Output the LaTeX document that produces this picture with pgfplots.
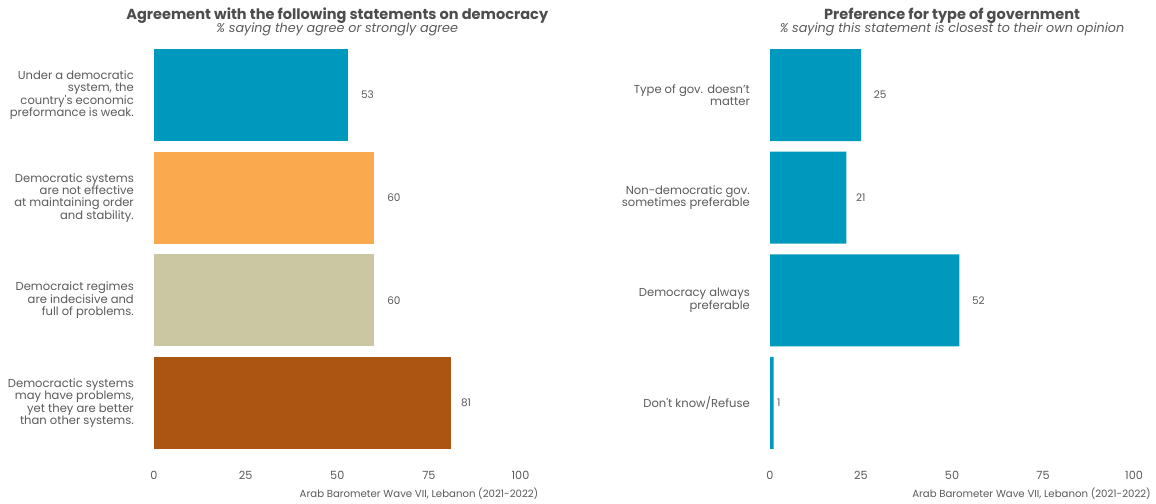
\documentclass[border=0pt]{standalone}
\usepackage{pgfplots}
\pgfplotsset{compat=1.18}
\usepackage{fontspec}
\setmainfont{Poppins}
\definecolor{abteal}{HTML}{0099BE}
\definecolor{aborange}{HTML}{FBA94F}
\definecolor{abbeige}{HTML}{CAC7A2}
\definecolor{abbrown}{HTML}{AC5412}
\definecolor{txtgray}{HTML}{5A5A5A}
\definecolor{titlegray}{HTML}{4D4D4D}
\pgfplotsset{
  /pgf/number format/assume math mode=true,
  abpanel/.style={
    anchor=south west, scale only axis,
    height=410.6bp,
    xmin=0, xmax=100, ymin=-0.5, ymax=3.5,
    axis line style={draw=none},
    major tick length=0pt, tick style={draw=none},
    xtick={0,25,50,75,100},
    ytick={0,1,2,3},
    clip=false,
    xticklabel style={anchor=center, inner sep=0pt, yshift=-20.7bp, font=\fontsize{11.3}{12}\selectfont, text=txtgray},
    yticklabel style={anchor=east, inner sep=0pt, xshift=-20bp, align=right, font=\fontsize{11.6}{12.4}\selectfont, text=txtgray},
    title style={at={(0.5,1)}, anchor=south, align=center, yshift=2bp, inner sep=0pt},
  },
  abbar/.style={
    xbar, draw=none, fill=#1, bar width=92bp, bar shift=0pt,
    point meta=x,
    nodes near coords={\hphantom{\pgfmathprintnumber{\pgfplotspointmeta}}\pgfmathprintnumber{\pgfplotspointmeta}},
    every node near coord/.append style={anchor=west, inner sep=0pt, font=\fontsize{10.5}{12}\selectfont, text=txtgray},
  },
}
\begin{document}
\begin{tikzpicture}[x=1bp,y=1bp]
\useasboundingbox (0,0) rectangle (1156,504);
\begin{axis}[abpanel, at={(154bp,49.7bp)}, width=366.5bp,
  yticklabels={{Democractic systems\\may have problems,\\yet they are better\\than other systems.},
               {Democraict regimes\\are indecisive and\\full of problems.},
               {Democratic systems\\are not effective\\at maintaining order\\and stability.},
               {Under a democratic\\system, the\\country\textquotesingle s economic\\preformance is weak.}},
  title={{\fontsize{14.6}{15}\selectfont\bfseries\color{titlegray}Agreement with the following statements on democracy}\\[-2.5pt]
         {\fontsize{12.8}{13}\selectfont\itshape\color{txtgray}\% saying they agree or strongly agree}},
]
\addplot[abbar=abteal] coordinates {(53,3)};
\addplot[abbar=aborange] coordinates {(60,2)};
\addplot[abbar=abbeige] coordinates {(60,1)};
\addplot[abbar=abbrown] coordinates {(81,0)};
\node[anchor=east, inner sep=0pt, font=\fontsize{10.2}{11}\selectfont, text=txtgray] at (rel axis cs:1,0) [xshift=18bp, yshift=-39.7bp] {Arab Barometer Wave VII, Lebanon (2021-2022)};
\end{axis}
\begin{axis}[abpanel, at={(770bp,49.7bp)}, width=364bp,
  yticklabels={{Don\textquotesingle t know/Refuse},
               {Democracy always\\preferable},
               {Non-democratic gov.\\sometimes preferable},
               {Type of gov. doesn’t\\matter}},
  title={{\fontsize{14.6}{15}\selectfont\bfseries\color{titlegray}Preference for type of government}\\[-2.5pt]
         {\fontsize{12.8}{13}\selectfont\itshape\color{txtgray}\% saying this statement is closest to their own opinion}},
]
\addplot[abbar=abteal] coordinates {(25,3) (21,2) (52,1) (1,0)};
\node[anchor=east, inner sep=0pt, font=\fontsize{10.2}{11}\selectfont, text=txtgray] at (rel axis cs:1,0) [xshift=17bp, yshift=-39.7bp] {Arab Barometer Wave VII, Lebanon (2021-2022)};
\end{axis}
\end{tikzpicture}
\end{document}
